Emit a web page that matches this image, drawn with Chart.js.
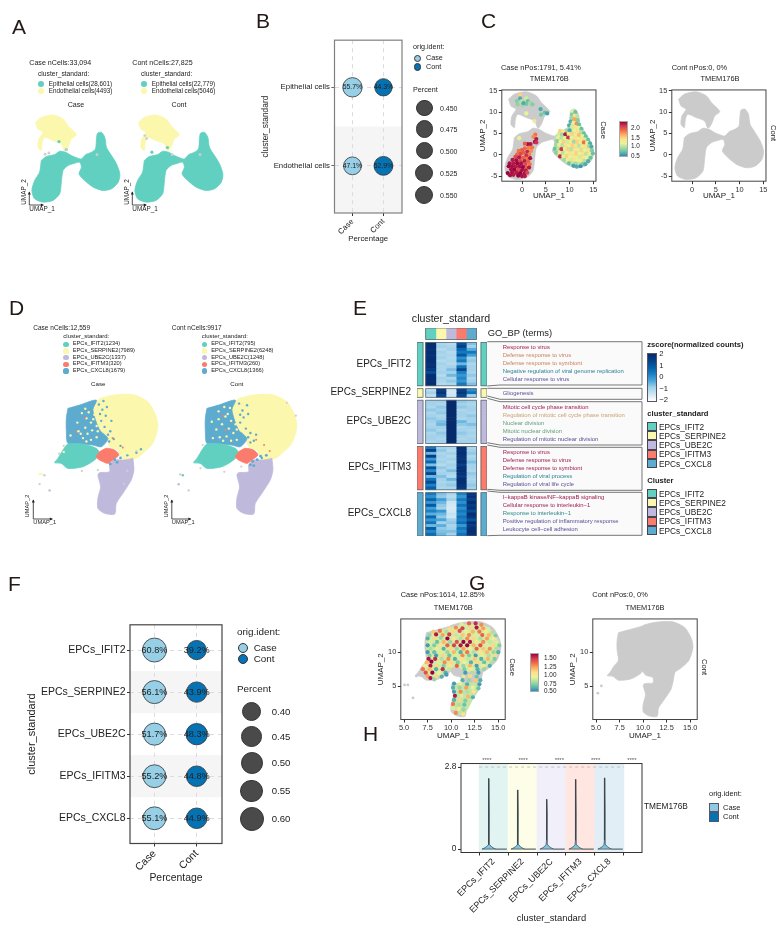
<!DOCTYPE html>
<html>
<head>
<meta charset="utf-8">
<title>TMEM176B panels</title>
<script src="https://cdn.jsdelivr.net/npm/chart.js@4"></script>
<style>
  html, body { margin: 0; padding: 0; background: #fff; }
  #page { position: relative; width: 784px; height: 934px; overflow: hidden; font-family: "Liberation Sans", Arial, sans-serif; color: #222; }
  #page canvas { position: absolute; }
  #page svg { position: absolute; left: 0; top: 0; z-index: 1; }
  .t { position: absolute; white-space: nowrap; line-height: 1; z-index: 2; }
  .b { position: absolute; z-index: 2; box-sizing: border-box; }
</style>
</head>
<body>
<div id="page"></div>
<script>
// ---- categories
const groups = ['Case', 'Cont'];
const lineages = ['Epithelial cells', 'Endothelial cells'];
const clusters = ['EPCs_IFIT2', 'EPCs_SERPINE2', 'EPCs_UBE2C', 'EPCs_IFITM3', 'EPCs_CXCL8'];

// ---- percentages, panels B and F
const lineageCase = [55.7, 47.1];
const lineageCont = [44.3, 52.9];
const clusterCase = [60.8, 56.1, 51.7, 55.2, 55.1];
const clusterCont = [39.2, 43.9, 48.3, 44.8, 44.9];
const percentLegendB = [0.45, 0.475, 0.5, 0.525, 0.55];
const percentLegendF = [0.4, 0.45, 0.5, 0.55, 0.6];

// ---- cell counts for the legends
const lineageCountCase = ['28,601', '4493'];
const lineageCountCont = ['22,779', '5046'];
const clusterCountCase = [1234, 7989, 1337, 320, 1679];
const clusterCountCont = [795, 6248, 1248, 260, 1366];

// ---- whole atlas UMAP outlines (panels A, C)
const epithelialOutline = [[-1.61,4.01],[-.55,4.95],[1.22,5.42],[2.29,6.21],[3.56,5.97],[4.77,5.19],[5.97,4.64],[6.9,4.4],[7.82,5.42],[9.02,5.97],[9.88,6.76],[10.09,9.11],[10.3,10.44],[11.15,10.68],[11.86,9.5],[12.2,7.15],[13.28,5.19],[14.34,3.23],[15.05,.87],[14.7,-1.09],[13.28,-2.65],[11.5,-3.05],[9.38,-2.26],[7.6,-.69],[6.4,.87],[6.9,2.44],[6.54,3.62],[5.48,3.38],[4.06,2.84],[3,1.66],[2.64,-1.09],[2.29,-3.83],[.87,-5.4],[-1.26,-5.79],[-3.03,-5],[-3.6,-3.05],[-3.03,-.69],[-1.97,1.27],[-1.61,4.01]];
const endothelialOutline = [[-2.82,13.03],[-1.61,14.2],[.87,14.76],[3,13.82],[4.06,12.25],[5.83,10.13],[4.77,9.11],[4.06,7.15],[3.35,6.21],[2.64,7.93],[.87,8.72],[-.9,9.5],[-1.4,8.32],[-1.61,6.36],[-2.32,7.15],[-2.11,9.11],[-1.26,10.68],[-2.32,11.46],[-2.82,13.03]];
const atlasExprZone = [[7.82,5.2],[9.02,5.6],[9.9,6.4],[10.3,8.9],[10.6,10],[11.2,10.2],[11.6,9.4],[12,7.15],[13.1,5.1],[14.1,3.2],[14.8,.87],[14.5,-1],[13.2,-2.4],[11.5,-2.8],[9.5,-2.1],[7.8,-.6],[6.7,.9],[7.1,2.6],[7,4.2],[7.82,5.2]];
const atlasStrayCase = [[0,5.8],[-.8,5.5],[3.7,6.6],[10.2,5.4]];
const atlasStrayCont = [[-1.5,9.9],[-1.1,9.2],[10.2,5.4],[4.3,5.4]];
const atlasTealDotsCase = [[2.14,8.5],[3.7,6.6]];
const atlasTealDotsCont = [[0,6],[3.3,7.1]];

// ---- EPC sub-clustering UMAP outlines (panels D, G)
const clusterOutlines = {
  SERPINE2: [[10.16,14],[11.33,14.38],[13.09,14.46],[14.41,13.61],[15.09,12.07],[15.29,10.72],[14.85,8.79],[13.97,7.63],[13.38,7.05],[12.36,6.86],[11.92,7.63],[11.77,8.01],[11.04,8.4],[10.75,9.56],[10.16,10.33],[9.72,11.87],[9.28,12.84],[10.16,14]],
  CXCL8: [[7.37,12.84],[8.4,13.23],[9.87,13.8],[9.57,12.65],[10.16,10.33],[10.89,9.36],[10.31,8.4],[9.57,8.59],[8.4,8.71],[7.37,8.79],[7.23,10.33],[7.23,11.68],[7.37,12.84]],
  UBE2C: [[13.09,7.05],[13.18,5.7],[12.94,4.54],[12.21,3],[11.63,1.84],[11.48,.6],[10.6,.68],[10.01,1.26],[10.01,2.41],[10.25,3.77],[10.01,5.12],[10.16,5.39],[11.04,5.5],[11.04,6.28],[11.48,6.86],[12.36,6.86],[13.09,7.05]],
  IFIT2: [[6.93,8.01],[7.37,8.71],[8.69,8.71],[9.87,8.21],[10.16,7.63],[9.72,6.86],[8.69,6.08],[7.37,5.89],[6.79,6.47],[6.2,6.55],[6.49,7.05],[6.93,8.01]],
  IFITM3: [[10.16,7.82],[10.75,8.21],[11.48,8.01],[11.86,7.43],[11.33,6.86],[10.89,6.47],[10.16,6.86],[9.87,7.24],[10.16,7.82]]
};
const epcOutline = [[7.37,12.84],[8.4,13.23],[9.87,13.8],[10.16,14],[11.33,14.38],[13.09,14.46],[14.41,13.61],[15.09,12.07],[15.29,10.72],[14.85,8.79],[13.97,7.63],[13.38,7.05],[13.18,5.7],[12.94,4.54],[12.21,3],[11.63,1.84],[11.48,.6],[10.6,.68],[10.01,1.26],[10.01,2.41],[10.25,3.77],[10.01,5.12],[10.16,5.39],[11.04,5.5],[11.04,6.28],[10.3,6.6],[9.9,7.2],[9.72,6.86],[8.69,6.08],[7.37,5.89],[6.79,6.47],[6.2,6.55],[6.49,7.05],[6.93,8.01],[7.37,8.79],[7.23,10.33],[7.23,11.68],[7.37,12.84]];
const epcExprTop = [[8,12.8],[10,13.6],[11.3,14],[13,14.1],[14.2,13.3],[14.9,12],[15,10.7],[14.6,9],[13.8,8],[12.6,7.3],[11.4,7.2],[10.6,8],[9.9,7.6],[8.7,6.6],[7.6,6.4],[7.2,7.5],[7.5,8.8],[7.4,10.5],[7.4,11.7],[8,12.8]];
const epcExprStem = [[10.3,5.3],[12.9,5.3],[12.3,3.2],[11.5,1.2],[10.6,1],[10.2,2.4],[10.4,3.8],[10.3,5.3]];

// ---- speckles of other clusters, panel D
const yellowInBlueCase = [[8.6,12.3],[9,11.7],[9.4,11.2],[8.9,10.6],[9.5,10.3],[8.3,10.2],[9.1,9.9],[9.9,9.5],[9.4,9.2],[8.2,11.2],[9.7,12.1],[8.9,12.8],[7.6,9.7],[8.7,9.4],[9.2,12.4],[9.6,11.6],[8.5,9.9],[9.9,10.8],[9,9],[10,10.2]];
const blueInYellowCase = [[10.1,13.3],[10.4,12.7],[10.7,12],[10.3,11.4],[10.6,10.7],[11.1,10.2],[10.9,9.8],[11.4,9.3],[11.2,11.4],[10.8,13],[13.4,7.7],[12.6,7.4],[13.8,8.1],[10.2,12.2],[10.5,13.7],[11,9],[12,8.5]];
const redDotsCase = [[8.9,11.8],[11.3,9.4],[12.2,8.3],[8.1,10.1]];
const blueDotsNearRedCase = [[11.5,6.9],[11.1,6.4],[12,7.1],[11.7,6.6]];
const yellowInBlueCont = [[8.4,12.5],[9,11.9],[9.5,11.4],[8.7,11],[9.3,10.5],[8.2,10.4],[9.7,10],[9.1,9.6],[10,9.2],[8.5,9.5],[9.8,12.5],[8.9,13],[7.9,9.4],[9.4,12.9],[7.8,11.3],[9.9,11],[9.2,12.2],[8.4,11.6],[10,10.4],[9.5,9.1],[8.8,9.1]];
const blueInYellowCont = [[10.2,13.4],[10.5,12.6],[10.6,11.8],[10.3,11.2],[10.8,10.5],[11.2,10],[11,9.5],[11.5,9.1],[11,12.2],[10.9,13.2],[12.2,7.1],[11.7,9.8],[10.3,12.1],[10.4,9.9],[11.2,8.9]];
const redDotsCont = [[9,10.3],[8.8,12],[11.7,9.2],[12.4,8.6],[12.9,7.9]];
const blueDotsNearRedCont = [[11.4,6.7],[11.2,6.3],[11.8,6.9],[12.1,7.3],[11.5,6.2],[12.6,7.4]];
const grayStrayCase = [[7,8.5],[6.6,7.6],[8.6,5.6],[10,5.7],[12.6,5.6],[12.3,4.1],[13.4,7.9]];
const grayStrayCont = [[7,8.6],[6.8,5.9],[8.9,5.5],[10.4,6.1],[14.4,13.5],[15.2,12]];
const strayYellowCase = [[4.88,5.23],[5.05,5.25],[7,7.8]];
const strayLilacCase = [[5.76,3.34]];
const strayGrayCase = [[4.88,4.07],[5.3,5.1]];
const strayYellowCont = [];
const strayLilacCont = [[4.88,4.05]];
const strayGrayCont = [[5.03,5.2],[5.76,3.34]];
const strayTealCont = [[5.25,5.1]];

// ---- TMEM176B expressing cells, panel C (x, y, expression)
const atlasExprTop = [[-.4,14,1.5],[-.4,13.2,.6],[-1.1,12.6,.8],[-.9,11.8,.85],[0,12.6,1],[.1,11.6,.9],[.9,13.2,1.1],[1.2,12.6,.7],[.9,11.9,.75],[1.7,12.2,.9],[2.2,11.8,.8],[.3,12.1,.6],[.9,9.7,1.2],[3.9,10.7,.6],[4,9.4,.75],[4.8,9.9,.7],[5.3,9.7,.55],[2.6,7.9,1.3],[-.6,3.9,1.25]];
const atlasExprLeft = [[2.8,4.7,1.9],[2.4,4.2,1.8],[3,3.7,2.3],[2.7,3,2.35],[3,2.9,2.2],[1.8,2.5,2.3],[1.2,2.5,2.35],[.6,2.6,2],[2.1,1.7,1.9],[1.4,1.6,1.85],[.6,1.5,1.95],[0,1.1,2],[-.7,.9,1.9],[1.9,.9,1.8],[1.1,.7,2.25],[.4,.5,2],[-.3,.2,2.1],[-1,.1,1.95],[1.5,.1,1.85],[.9,-.2,2.2],[-1.4,-.5,2.1],[-.6,-.6,2.3],[.2,-.7,2],[1,-.9,1.9],[1.7,-.8,2.35],[-2,-1.2,2.3],[-1.2,-1.3,2.35],[-.4,-1.4,2.1],[.5,-1.5,2.3],[1.3,-1.6,2],[-2.6,-2,2.35],[-1.8,-2,2.3],[-1,-2,2.4],[-.2,-2.1,2.35],[.7,-2.2,2.1],[1.6,-2.2,1.9],[-2.8,-2.7,2.4],[-2.1,-2.7,2.35],[-1.4,-2.8,2.3],[-.6,-2.8,2.35],[.2,-2.9,2.4],[1,-3,2],[1.5,-3,2.3],[-2.3,-3.4,2.35],[-1.6,-3.5,2.4],[-.8,-3.5,2.1],[0,-3.6,2.35],[.8,-3.7,2.3],[-3,-4.3,2.4],[-2.1,-4.1,2.35],[-1.2,-4.2,2.3],[-.4,-4.3,2.4],[.5,-4.4,2.35],[1.1,-4.2,2.1],[-1.8,-4.7,2.3],[-.8,-4.9,2.4],[0,-5,2.35],[-2.5,-4.8,2.35],[.6,-5,2.3]];
const atlasExprRight = [[10.7,10.2,1.2],[11.2,10,.7],[10.5,9.4,.8],[11.1,9.2,1.4],[11.6,8.9,1],[10.4,8.6,.9],[11,8.3,1.7],[11.7,8.1,.8],[10.2,7.8,.6],[10.8,7.5,1.3],[11.5,7.3,1.8],[12,7.1,.7],[9.9,6.9,.6],[10.5,6.6,1.1],[11.2,6.5,1.4],[11.9,6.3,1.2],[12.5,6.1,.7],[8,5.6,1.5],[8.7,5.5,1.3],[9.4,5.6,.9],[10,5.7,.6],[11,5.7,1.2],[11.7,5.5,1.4],[12.4,5.3,1],[13,5,.7],[7.7,4.8,1.1],[8.4,4.7,.9],[9.1,4.8,2.3],[9.8,4.9,1.3],[10.6,4.9,1.5],[11.3,4.7,1.3],[12,4.6,1.6],[12.7,4.4,1.2],[13.4,4.3,.7],[7.6,4,1.3],[8.3,3.9,1],[9,3.9,1.2],[9.7,4,2.2],[10.4,4,1.2],[11.1,3.9,1.4],[11.8,3.8,1.3],[12.5,3.7,1.4],[13.2,3.6,1.1],[13.9,3.5,.7],[7.4,3.2,.8],[8.1,3.1,1.2],[8.8,3.1,1.5],[9.5,3.2,1.1],[10.2,3.1,1.3],[10.9,3.1,.9],[11.6,3,1.5],[12.3,2.9,1.3],[13,2.9,1.9],[13.7,2.8,1.2],[14.3,2.7,.6],[7.1,2.3,.9],[7.8,2.3,1.3],[8.5,2.2,1],[9.2,2.3,1.4],[9.9,2.2,1.2],[10.6,2.2,1.5],[11.3,2.1,1.4],[12,2.1,1],[12.7,2,1.3],[13.4,2,1.4],[14.1,2,.9],[14.6,1.9,.6],[6.9,1.4,.7],[7.6,1.4,1],[8.3,1.3,2.2],[9,1.4,1.3],[9.7,1.3,1.5],[10.4,1.3,1],[11.1,1.2,1.4],[11.8,1.2,1.3],[12.5,1.1,1.5],[13.2,1.1,1.2],[13.9,1.1,1.4],[14.7,1,.8],[7.2,.5,.8],[7.9,.5,1.4],[8.6,.4,1],[9.3,.5,1.2],[10,.4,1.4],[10.7,.4,1.3],[11.4,.3,1.5],[12.1,.3,1.2],[12.8,.3,1.4],[13.5,.2,1],[14.2,.2,1.3],[14.9,.3,.7],[8,-.4,2.25],[8.7,-.4,1.2],[9.4,-.4,1.5],[10.1,-.5,1.2],[10.8,-.5,1.4],[11.5,-.6,1.3],[12.2,-.6,1.1],[12.9,-.6,1.4],[13.6,-.6,1.2],[14.4,-.7,.7],[8.9,-1.2,.9],[9.6,-1.2,1.3],[10.3,-1.3,1.1],[11,-1.3,1.4],[11.7,-1.4,1.2],[12.4,-1.4,1.3],[13.1,-1.4,1],[13.9,-1.5,.6],[9.9,-2,.7],[10.6,-2.1,1],[11.3,-2.1,.9],[12,-2.2,1],[12.7,-2.2,.8],[13.3,-2.2,.6],[11.5,-2.8,.6],[10.8,-2.6,.55],[12.3,-2.7,.5]];

// ---- TMEM176B expressing cells, panel G (x, y, expression)
const epcExpr = [[11.1,14.1,.9],[11.9,14.2,1.4],[12.6,14.2,1.55],[13.2,14,1.3],
[9.8,13.5,1.1],[10.5,13.6,1.3],[11.2,13.5,1.5],[12,13.6,1.1],[12.7,13.6,1.6],[13.4,13.5,1.25],[13.9,13.4,.9],
[8.1,13,1.15],[8.8,13.1,1.35],[9.5,13,.8],[10.2,13,1.1],[10.9,13.1,1.45],[11.6,13,.95],[12.3,13,1.2],[13,13,1.35],[13.7,13,1],[14.4,12.9,.8],
[7.7,12.5,.75],[8.4,12.6,1.6],[9.1,12.5,1.25],[9.8,12.6,1.5],[10.5,12.5,.85],[11.2,12.5,1.15],[11.9,12.5,1.3],[12.6,12.5,.9],[13.3,12.5,1.4],[14,12.5,1.2],[14.7,12.4,.7],
[7.5,12,.6],[8.2,12,1.1],[8.9,12.1,.75],[9.6,12,1.65],[10.3,12,1.05],[11,12,.8],[11.7,12,1.3],[12.4,12,1.1],[13.1,12,.8],[13.8,12,1.25],[14.5,12,1],
[7.8,11.5,.9],[8.5,11.5,.65],[9.2,11.5,1.2],[9.9,11.5,.75],[10.6,11.5,1.45],[11.3,11.5,1.65],[12,11.5,1.6],[12.7,11.5,1],[13.4,11.5,1.3],[14.1,11.5,.85],[14.9,11.4,.9],
[7.5,11,.55],[8.2,11,.7],[8.9,11,1.05],[9.6,11,1.4],[10.3,11,1.5],[11,11,1.6],[11.7,11,1.65],[12.4,11,1.2],[13.1,11,1.45],[13.8,11,.9],[14.5,11,1.1],[15.1,11,.7],
[7.8,10.5,.8],[8.5,10.5,1],[9.2,10.5,.6],[9.9,10.5,1.1],[10.6,10.5,.75],[11.3,10.5,1.25],[12,10.5,.95],[12.7,10.5,1.4],[13.4,10.5,1.15],[14.1,10.5,1.3],[14.8,10.5,.8],
[7.5,10,.55],[8.2,10,.65],[8.9,10,.9],[9.6,10,.75],[10.3,10,1.2],[11,10,.6],[11.7,10,1.35],[12.4,10,.8],[13.1,10,1.05],[13.8,10,1.2],[14.5,10,.75],[15,10,.6],
[7.7,9.5,.7],[8.4,9.5,.55],[9.1,9.5,1.1],[9.8,9.5,.65],[10.5,9.5,.9],[11.2,9.5,1.3],[11.9,9.5,.7],[12.6,9.5,.55],[13.3,9.5,1],[14,9.5,.8],[14.7,9.5,1.1],
[7.6,9,1.6],[8.3,9,1.55],[9,9,.8],[9.7,9,1.3],[10.4,9,.6],[11.1,9,1.05],[11.8,9,.85],[12.5,9,1.15],[13.2,9,.6],[13.9,9,1.2],[14.6,9,.7],
[7.4,8.5,1.2],[7.9,8.6,1.65],[8.6,8.5,.9],[9.3,8.5,1.3],[10,8.5,1.1],[10.7,8.5,.7],[11.4,8.5,.95],[12.1,8.5,.6],[12.8,8.5,1.1],[13.5,8.5,.65],[14.3,8.5,.8],
[7.2,8,1],[7.8,8,1.6],[8.5,8,1.1],[9.2,8,.7],[9.9,8,1.05],[10.6,8,1.4],[11.3,8,.75],[12,8,1.2],[12.7,8,.55],[13.4,8,1],[14.1,8,.6],
[7,7.5,1.35],[7.7,7.5,1.2],[8.4,7.5,.6],[9.1,7.5,1.55],[9.8,7.5,.85],[11.4,7.5,.7],[12.1,7.5,1],[12.8,7.5,.6],[13.5,7.5,.75],
[7.3,7,1.45],[8,7,1.65],[8.7,7,.95],[9.4,7,.6],[11.5,7,.55],[12.2,7,.8],[12.9,7,.55],
[7.5,6.5,1.25],[7.8,6.2,1.6],[8.4,6.4,1.1],[9,6.4,.6],[9.5,6.7,.55],[11.3,6.4,.9],[12,6.5,1.1],[12.7,6.4,.65],
[8.2,6,.75],[11.2,5.9,.6],[11.9,5.9,.75],[12.6,5.9,1.15],[13.1,5.9,.6],
[10.3,5.4,.55],[11,5.4,1],[11.7,5.3,.6],[12.4,5.3,.85],[13,5.3,.55],
[10.2,4.8,.6],[10.9,4.8,.75],[11.6,4.8,1.25],[12.3,4.8,.95],[12.9,4.7,.65],
[10.3,4.2,.55],[11,4.2,1.3],[11.7,4.2,.8],[12.4,4.2,1.05],
[10.4,3.6,1.6],[11.1,3.6,.9],[11.8,3.5,1.2],[12.3,3.4,.6],
[10.3,3,.6],[10.9,3,1.1],[11.5,2.9,.7],
[10.2,2.4,1.35],[10.8,2.3,.8],[11.4,2.3,.65],
[10.2,1.8,.9],[10.8,1.7,1],[11.3,1.6,.75],
[10.5,1.1,1.3],[11,1.1,.85],[11.3,.9,1.05]];

// ---- violin panel H
const violinMax = [2.41, 2.02, 1.7, 2.38, 2.43];
const violinHeights = [0, .03, .08, .15, .3, .6, .9, 1.2];
const violinWidths = [.24, .17, .09, .03, .012, .012, .024, .012];
const violinYLimit = 2.8;

// ---- heatmap z-scores, five columns per row (panel E)
const zIFIT2 = [[1.9,-.6,-.7,1.2,-.3],[1.9,-.5,-.6,1.5,-.5],[1.8,-.7,-.5,.9,-.1],[1.9,-.5,-.7,.6,.6],[1.8,-.6,-.6,1.1,.1],[1.9,-.5,-.7,.3,-.5],[1.9,-.7,-.6,.6,-.4],[1.8,-.5,-.7,-.2,-.6],[1.9,-.6,-.5,.7,-.5],[1.7,-.6,-.3,1.4,-.5],[1.3,-.5,-.5,.5,-.6],[1.9,-.7,-.2,.2,-.4],[1.9,-.5,-.6,.4,-.6],[1.8,-.6,-.4,.2,-.5],[1.9,-.7,-.6,.6,-.3]];
const zSERPINE2 = [[-.8,1.6,-1,1.5,.3],[-.5,1.8,-1.1,1.7,.7],[-.8,1.4,-1,1.4,-.5]];
const zUBE2C = [[-.5,-.5,2,-.4,-.5],[-.5,-.6,2,-.5,-.6],[-.6,-.4,2,-.4,-.5],[-.4,-.5,2,-.6,-.5],[-.6,-.4,2,-.5,-.6],[-.5,-.6,2,-.5,-.4],[-.4,-.5,2,-.6,-.5],[-.5,-.3,2,-.2,-.5],[-.6,-.2,2,-.4,-.3],[-.5,-.5,2,-.6,-.5],[-.4,-.6,2,-.5,-.6],[-.6,-.4,2,-.4,-.5],[-.5,-.5,2,-.5,-.6],[-.5,-.6,2,-.6,-.5],[-.6,-.5,2,-.5,-.5]];
const zIFITM3 = [[.6,-.5,-.6,1.9,-.6],[1.5,-.4,-.7,1.8,-.5],[-.2,-.6,-.5,1.9,-.4],[1.6,-.5,-.7,1.8,-.6],[.2,-.6,-.5,1.7,-.5],[.9,-.5,-.7,1.9,-.3],[-.3,-.7,-.5,1.5,-.5],[1.2,-.4,-.6,1.9,-.5],[.4,-.6,-.3,1.9,-.6],[1.4,-.5,-.6,1.8,-.4],[-.2,-.3,-.7,1.6,-.5],[.7,-.5,-.2,1.9,-.6],[1.3,-.6,-.5,1.9,-.5],[.5,-.5,-.4,1.8,-.4],[1,-.6,-.6,1.7,-.5]];
const zCXCL8 = [[.6,-.3,-.6,.5,1.7],[.3,-.4,-.7,.2,1.8],[.9,.1,-.5,.6,1.5],[.2,-.2,-1,.3,1.9],[1.1,-.4,-1.1,.7,1.6],[.1,-.5,-1.2,.3,1.8],[.5,.2,-1.1,.6,1.3],[-.1,-.2,-.9,.4,1.9],[.9,-.4,-1,.7,1.7],[.2,0,-.5,.5,1.2],[.7,-.5,-.4,.8,1.9],[-.2,-.1,-.6,.2,1.6],[1,-.4,-.5,.6,1.8],[.4,-.3,-.3,.4,1.9],[.8,-.2,-.5,.7,1.8]];

// ---- GO terms next to the heatmap
const goTerms = [
  ['Response to virus', 'Defense response to virus', 'Defense response to symbiont', 'Negative regulation of viral genome replication', 'Cellular response to virus'],
  ['Gliogenesis'],
  ['Mitotic cell cycle phase transition', 'Regulation of mitotic cell cycle phase transition', 'Nuclear division', 'Mitotic nuclear division', 'Regulation of mitotic nuclear division'],
  ['Response to virus', 'Defense response to virus', 'Defense response to symbiont', 'Regulation of viral process', 'Regulation of viral life cycle'],
  ['I\u2212kappaB kinase/NF\u2212kappaB signaling', 'Cellular response to interleukin\u22121', 'Response to interleukin\u22121', 'Positive regulation of inflammatory response', 'Leukocyte cell\u2212cell adhesion']
];
const crimson = '#a01c50', rust = '#c8835a', tan = '#c8a372', green = '#62a07e', teal = '#2a8096', violet = '#5b4f96';
const goColors = [
  [crimson, rust, rust, teal, violet],
  [violet],
  [crimson, tan, green, green, violet],
  [crimson, crimson, crimson, teal, violet],
  [crimson, crimson, '#2a8a8a', violet, violet]
];

// ---- colours
const caseBlue = '#97cfe6', contBlue = '#0573b3';
const clusterColors = ['#62d0c0', '#fbf7ad', '#bfb9db', '#fb7b6c', '#5dabcf'];
const bandColors = ['#e2f4f1', '#fefee8', '#f1effa', '#ffe6e1', '#e1eef6'];
const spectral = ['#3288bd', '#66c2a5', '#abdda4', '#e6f598', '#fee08b', '#fdae61', '#f46d43', '#d53e4f', '#9e0142'];
const heatStops = [[-2, '#ffffff'], [-1, '#cde6f4'], [-.5, '#a3d2ea'], [0, '#4aa6da'], [.5, '#1b80c4'], [1, '#045fa8'], [1.5, '#06408a'], [2, '#062a6a']];

Chart.defaults.font.family = '"Liberation Sans", Arial, sans-serif';
Chart.defaults.color = '#333';
Chart.defaults.animation = false;
Chart.defaults.plugins.legend.display = false;
Chart.defaults.plugins.tooltip.enabled = false;

const page = document.getElementById('page');
const svgNS = 'http://www.w3.org/2000/svg';
const overlay = document.createElementNS(svgNS, 'svg');
overlay.setAttribute('width', 784);
overlay.setAttribute('height', 934);
page.appendChild(overlay);

function text(str, x, y, size, o = {}) {
  const el = document.createElement('span');
  el.className = 't';
  el.textContent = str;
  el.style.left = x + 'px';
  el.style.top = y + 'px';
  el.style.fontSize = size + 'px';
  if (o.bold) el.style.fontWeight = 'bold';
  el.style.color = o.color || '#222';
  const tx = o.align === 'center' ? '-50%' : o.align === 'right' ? '-100%' : '0';
  el.style.transform = `translate(${tx},-50%)` + (o.rot ? ` rotate(${o.rot}deg)` : '');
  page.appendChild(el);
}

function box(x, y, w, h, css) {
  const el = document.createElement('div');
  el.className = 'b';
  el.style.left = x + 'px';
  el.style.top = y + 'px';
  el.style.width = w + 'px';
  el.style.height = h + 'px';
  Object.assign(el.style, css);
  page.appendChild(el);
}

function dot(cx, cy, r, fill, border) {
  box(cx - r, cy - r, 2 * r, 2 * r, { background: fill, borderRadius: '50%', border: border ? `0.8px solid ${border}` : 'none' });
}

function poly(points, fill, stroke, width) {
  const p = document.createElementNS(svgNS, 'polyline');
  p.setAttribute('points', points.map(q => q.join(',')).join(' '));
  p.setAttribute('fill', fill || 'none');
  p.setAttribute('stroke', stroke || 'none');
  p.setAttribute('stroke-width', width || 1);
  overlay.appendChild(p);
}

function umapArrows(x, y, up, right, size) {
  poly([[x, y - up], [x, y], [x + right, y]], 'none', '#222', 0.8);
  poly([[x - 1.5, y - up + 2.5], [x, y - up - .5], [x + 1.5, y - up + 2.5]], '#222');
  poly([[x + right - 2.5, y - 1.5], [x + right + .5, y], [x + right - 2.5, y + 1.5]], '#222');
  text('UMAP_1', x, y + 4, size);
  text('UMAP_2', x - 5, y - 13, size, { align: 'center', rot: -90 });
}

const toRgb = hex => [1, 3, 5].map(i => parseInt(hex.slice(i, i + 2), 16));
function mix(a, b, t) {
  const ca = toRgb(a), cb = toRgb(b);
  return `rgb(${ca.map((c, i) => Math.round(c + (cb[i] - c) * t)).join(',')})`;
}
function spectralColor(v, lo, hi) {
  const t = Math.min(1, Math.max(0, (v - lo) / (hi - lo))) * (spectral.length - 1);
  const i = Math.min(spectral.length - 2, Math.floor(t));
  return mix(spectral[i], spectral[i + 1], t - i);
}
function heatColor(z) {
  for (let i = 0; i < heatStops.length - 1; i++) {
    if (z <= heatStops[i + 1][0]) {
      return mix(heatStops[i][1], heatStops[i + 1][1], (z - heatStops[i][0]) / (heatStops[i + 1][0] - heatStops[i][0]));
    }
  }
  return heatStops[heatStops.length - 1][1];
}

// frame plugin: box round the plot area
const framePlugin = {
  id: 'frame',
  afterDraw(chart, args, opts) {
    if (!opts.color) return;
    const { ctx, chartArea: a } = chart;
    ctx.save();
    ctx.strokeStyle = opts.color;
    ctx.lineWidth = opts.width || 1;
    ctx.strokeRect(a.left, a.top, a.right - a.left, a.bottom - a.top);
    ctx.restore();
  }
};
Chart.register(framePlugin);

// puts a chart so that its plot area sits exactly on frame
function addChart(frame, m, config) {
  const canvas = document.createElement('canvas');
  const w = Math.round(m.left + frame.r - frame.l + m.right);
  const h = Math.round(m.top + frame.b - frame.t + m.bottom);
  canvas.width = w;
  canvas.height = h;
  canvas.style.left = (frame.l - m.left) + 'px';
  canvas.style.top = (frame.t - m.top) + 'px';
  canvas.style.width = w + 'px';
  canvas.style.height = h + 'px';
  page.appendChild(canvas);
  const scales = config.options.scales;
  let padLeft = m.left, padBottom = m.bottom;
  if (scales.x.display !== false) {
    scales.x.afterFit = s => { s.height = m.bottom; };
    padBottom = 0;
  }
  if (scales.y.display !== false) {
    scales.y.afterFit = s => { s.width = m.left; };
    padLeft = 0;
  }
  config.options.responsive = false;
  config.options.layout = { autoPadding: false, padding: { left: padLeft, top: m.top, right: m.right, bottom: padBottom } };
  return new Chart(canvas, config);
}

const hiddenAxis = (min, max) => ({ type: 'linear', display: false, min, max });
function valueAxis(min, max, ticks, size, title, titleSize, fmt) {
  return {
    type: 'linear', min, max,
    afterBuildTicks: s => { s.ticks = ticks.map(value => ({ value })); },
    grid: { drawOnChartArea: false, color: '#333', tickLength: 3 },
    border: { display: false },
    ticks: { autoSkip: false, maxRotation: 0, padding: 1.5, color: '#333', font: { size }, callback: fmt || (v => v) },
    title: title ? { display: true, text: title, padding: 0, color: '#222', font: { size: titleSize } } : { display: false }
  };
}
const shape = (outline, color, order) => ({
  data: outline.map(p => ({ x: p[0], y: p[1] })),
  showLine: true, fill: 'shape', backgroundColor: color, borderColor: color, borderWidth: .8, tension: .25, pointRadius: 0, order
});
const dots = (pts, color, r, order) => ({
  data: pts.map(p => ({ x: p[0], y: p[1] })),
  showLine: false, pointRadius: r, pointBackgroundColor: color, pointBorderWidth: 0, order
});

// ---- panel letters
[['A', 12, 26], ['B', 256, 20], ['C', 481, 20], ['D', 9, 307], ['E', 353, 307], ['F', 8, 583], ['G', 469, 582], ['H', 363, 733]]
  .forEach(l => text(l[0], l[1], l[2], 21, { color: '#231815' }));

// ---- panel A
function atlasPanel(dx, title, nCells, counts, stray, tealDots) {
  addChart({ l: 30 + dx, r: 122 + dx, t: 113.6, b: 202.9 }, { left: 0, right: 0, top: 0, bottom: 0 }, {
    type: 'line',
    data: {
      datasets: [
        shape(endothelialOutline, clusterColors[1], 4),
        shape(epithelialOutline, clusterColors[0], 3),
        dots(tealDots, clusterColors[0], 1.6, 2),
        dots(stray, '#cfcfcf', 1.4, 1)
      ]
    },
    options: { scales: { x: hiddenAxis(-4, 15.5), y: hiddenAxis(-6, 15) } }
  });
  text(`${title} nCells:${nCells}`, 29.3 + dx, 64, 7.1);
  text('cluster_standard:', 38 + dx, 73.7, 6.7);
  lineages.forEach((name, i) => {
    dot(41.3 + dx, 83.7 + i * 7.4, 2.9, clusterColors[i]);
    text(`${name}(${counts[i]})`, 48.7 + dx, 83.7 + i * 7.4, 6.3);
  });
  text(title, 76 + dx, 106.3, 7.1, { align: 'center' });
  umapArrows(29.3 + dx, 205, 13, 14, 6.4);
}
atlasPanel(0, 'Case', '33,094', lineageCountCase, atlasStrayCase, atlasTealDotsCase);
atlasPanel(103, 'Cont', '27,825', lineageCountCont, atlasStrayCont, atlasTealDotsCont);

// ---- bubble panels B and F
function bubblePanel(frame, m, rows, casePct, contPct, sizeAt, opt) {
  const rowIdx = rows.map((_, i) => i);
  const labelPlugin = {
    id: 'pctLabels',
    afterDatasetsDraw(chart) {
      const { ctx, scales } = chart;
      ctx.save();
      ctx.font = `${opt.labelSize}px "Liberation Sans", Arial, sans-serif`;
      ctx.textAlign = 'center';
      ctx.textBaseline = 'middle';
      ctx.fillStyle = '#222';
      [casePct, contPct].forEach((vals, g) => vals.forEach((v, i) => {
        ctx.fillText(v.toFixed(1) + '%', scales.x.getPixelForValue(g), scales.y.getPixelForValue(i));
      }));
      ctx.restore();
    }
  };
  const stripePlugin = {
    id: 'stripes',
    beforeDraw(chart) {
      const { ctx, chartArea: a, scales } = chart;
      ctx.save();
      ctx.fillStyle = '#f5f5f5';
      rows.forEach((_, i) => {
        if (i % 2 === 1) {
          const t = scales.y.getPixelForValue(i - .5);
          const b = i === rows.length - 1 ? a.bottom : scales.y.getPixelForValue(i + .5);
          ctx.fillRect(a.left, t, a.right - a.left, b - t);
        }
      });
      ctx.restore();
    }
  };
  const grid = { color: '#dcdcdc', tickColor: '#333', tickLength: 3, tickBorderDash: [1, 0] };
  const border = { display: false, dash: [4, 4] };
  addChart(frame, m, {
    type: 'bubble',
    data: {
      datasets: [
        { data: casePct.map((p, i) => ({ x: 0, y: i, r: sizeAt(p / 100) })), backgroundColor: caseBlue, borderColor: '#333', borderWidth: .8 },
        { data: contPct.map((p, i) => ({ x: 1, y: i, r: sizeAt(p / 100) })), backgroundColor: contBlue, borderColor: '#333', borderWidth: .8 }
      ]
    },
    options: {
      plugins: { frame: { color: opt.frameColor, width: 1.2 } },
      scales: {
        x: {
          type: 'linear', min: -.58, max: 1.6, grid, border,
          afterBuildTicks: s => { s.ticks = [0, 1].map(value => ({ value })); },
          ticks: { autoSkip: false, minRotation: 45, maxRotation: 45, padding: 1, color: '#222', font: { size: opt.tickSize }, callback: v => groups[v] },
          title: { display: true, text: 'Percentage', padding: 0, color: '#222', font: { size: opt.titleSize } }
        },
        y: {
          type: 'linear', reverse: true, min: -.6, max: rows.length - .4, grid, border,
          afterBuildTicks: s => { s.ticks = rowIdx.map(value => ({ value })); },
          ticks: { autoSkip: false, padding: 1.5, color: '#222', font: { size: opt.tickSize }, callback: v => rows[v] },
          title: { display: true, text: 'cluster_standard', padding: 0, color: '#222', font: { size: opt.yTitleSize } }
        }
      }
    },
    plugins: [labelPlugin, stripePlugin]
  });
}

const sizeB = p => 9.7 * Math.sqrt(p / .557);
const sizeF = p => 12 * Math.sqrt(p / .608);
bubblePanel({ l: 334.7, r: 402.3, t: 35, b: 213.3 }, { left: 73.5, right: 1, top: 1, bottom: 31 }, lineages, lineageCase, lineageCont, sizeB,
  { labelSize: 6.9, tickSize: 7.8, titleSize: 7.8, yTitleSize: 8.4, frameColor: '#808080' });
bubblePanel({ l: 130.3, r: 222, t: 618, b: 843.3 }, { left: 105, right: 1, top: 1, bottom: 40.5 }, clusters, clusterCase, clusterCont, sizeF,
  { labelSize: 9.2, tickSize: 10.5, titleSize: 10.4, yTitleSize: 11, frameColor: '#444' });

function bubbleLegend(x, idY, r, size, caseX, caseTextX, pctY, sizes, sizeFn, sizeX, labelX, fmt) {
  text('orig.ident:', x, idY, size);
  groups.forEach((g, i) => {
    const y = idY + (i ? r.b : r.a);
    dot(caseX, y, r.r, i ? contBlue : caseBlue, '#333');
    text(g, caseTextX, y, size);
  });
  text('Percent', x, pctY, size);
  sizes.forEach((p, i) => {
    dot(sizeX, r.ys[i], sizeFn(p) * r.scale, '#4a4a4a', '#333');
    text(fmt(p), labelX, r.ys[i], size * .97);
  });
}
bubbleLegend(413, 46.7, { a: 11.6, b: 20.3, r: 3.8, scale: .95, ys: [108, 129, 150.7, 173, 195.3] }, 7.2, 417.7, 426, 90,
  percentLegendB, sizeB, 424.3, 440, p => p.toFixed(3));
bubbleLegend(237, 632.3, { a: 15.7, b: 27, r: 5.2, scale: 1, ys: [711.7, 736.7, 762.7, 791, 819.3] }, 9.9, 242.7, 253.7, 689.3,
  percentLegendF, sizeF, 251.7, 271.7, p => p.toFixed(2));

// ---- expression UMAPs, panels C and G
function exprPanel(frame, m, cfg) {
  const rangeLo = cfg.lo, rangeHi = cfg.hi;
  const sets = [];
  if (cfg.tint) cfg.tint.forEach(t => sets.push(shape(t.outline, t.color, 8)));
  (cfg.cells || []).forEach(cells => sets.push({
    data: cells.map(c => ({ x: c[0], y: c[1], v: c[2] })),
    showLine: false, pointRadius: cfg.r, pointBorderWidth: 0,
    pointBackgroundColor: ctx => (ctx.raw ? spectralColor(ctx.raw.v, rangeLo, rangeHi) : '#000'), order: 1
  }));
  cfg.outlines.forEach(o => sets.push(shape(o, '#cbcbcb', 10)));
  if (cfg.stray) sets.push(dots(cfg.stray, '#cbcbcb', 1.4, 9));
  addChart(frame, m, {
    type: 'line',
    data: { datasets: sets },
    options: {
      plugins: { frame: { color: '#444', width: 1 } },
      scales: {
        x: valueAxis(cfg.xr[0], cfg.xr[1], cfg.xt, cfg.tickSize, 'UMAP_1', cfg.titleSize, cfg.xfmt),
        y: valueAxis(cfg.yr[0], cfg.yr[1], cfg.yt, cfg.tickSize, 'UMAP_2', cfg.titleSize)
      }
    }
  });
}
const cTicksX = [0, 5, 10, 15], cTicksY = [-5, 0, 5, 10, 15];
const gTicksX = [5, 7.5, 10, 12.5, 15], gTicksY = [5, 10];
const cBase = { lo: .45, hi: 2.4, r: 2.1, xr: [-4.25, 15.55], yr: [-6.2, 15.2], xt: cTicksX, yt: cTicksY, tickSize: 7.4, titleSize: 8, outlines: [epithelialOutline, endothelialOutline] };
const gBase = { lo: .5, hi: 1.65, r: 2.1, xr: [4.65, 15.74], yr: [.14, 14.86], xt: gTicksX, yt: gTicksY, tickSize: 7.4, titleSize: 8, outlines: [epcOutline], xfmt: v => v.toFixed(1) };

exprPanel({ l: 501.7, r: 597.7, t: 85, b: 181.3 }, { left: 23.8, right: 1, top: 1, bottom: 19.8 },
  Object.assign({}, cBase, { cells: [atlasExprTop, atlasExprLeft, atlasExprRight], tint: [{ outline: atlasExprZone, color: '#bfe3a8' }] }));
exprPanel({ l: 671.7, r: 768.3, t: 85, b: 181.3 }, { left: 23.8, right: 1, top: 1, bottom: 19.8 }, Object.assign({}, cBase));
exprPanel({ l: 400.7, r: 505.7, t: 614.3, b: 719.3 }, { left: 24.8, right: 1, top: 1, bottom: 21.5 },
  Object.assign({}, gBase, {
    cells: [epcExpr],
    tint: [{ outline: epcExprTop, color: '#d4eaa6' }, { outline: epcExprStem, color: '#c4e4a8' }],
    stray: [[5.05, 5.2], [5.4, 5.2], [5.95, 3.3], [7.2, 7], [6.7, 6.6], [6.3, 6.5]]
  }));
exprPanel({ l: 592.3, r: 697.3, t: 614.3, b: 719.3 }, { left: 24.8, right: 1, top: 1, bottom: 21.5 },
  Object.assign({}, gBase, { stray: [[5.56, 5.05], [5.18, 4]] }));

const spectralCss = `linear-gradient(to top, ${spectral.join(',')})`;
function headers(left, center, yTitle, yName, str, stripX, stripY, name) {
  text(str, left, yTitle, 7.4);
  text('TMEM176B', center, yName, 7.4, { align: 'center' });
  text(name, stripX, stripY, 7.6, { align: 'center', rot: 90 });
}
headers(501, 549.3, 68, 79, 'Case nPos:1791, 5.41%', 603, 130, 'Case');
headers(671.7, 720, 68, 79, 'Cont nPos:0, 0%', 773, 133, 'Cont');
headers(400.7, 453.3, 595.3, 608, 'Case nPos:1614, 12.85%', 511.7, 667, 'Case');
headers(592.3, 645, 595.3, 608, 'Cont nPos:0, 0%', 704, 667, 'Cont');
box(619, 121, 9.2, 35.5, { background: spectralCss, border: '0.5px solid #aaa' });
[['2.0', 128.3], ['1.5', 137.7], ['1.0', 146.3], ['0.5', 155.7]].forEach(t => text(t[0], 631, t[1], 6.4));
box(529.7, 653.3, 9.6, 39, { background: spectralCss, border: '0.5px solid #aaa' });
[['1.50', 658.3], ['1.25', 667], ['1.00', 675], ['0.75', 683.7], ['0.50', 691.3]].forEach(t => text(t[0], 544, t[1], 6.4));

// ---- panel D
function clusterPanel(dx, title, nCells, counts, yellowSpots, blueSpots, redSpots, nearRed, gray, sy, sl, sg, st) {
  addChart({ l: 37.4 + dx, r: 163.5 + dx, t: 391, b: 518 }, { left: 0, right: 0, top: 0, bottom: 0 }, {
    type: 'line',
    data: {
      datasets: [
        shape(clusterOutlines.SERPINE2, clusterColors[1], 9),
        shape(clusterOutlines.UBE2C, clusterColors[2], 8),
        shape(clusterOutlines.CXCL8, clusterColors[4], 7),
        shape(clusterOutlines.IFIT2, clusterColors[0], 6),
        shape(clusterOutlines.IFITM3, clusterColors[3], 5),
        dots(yellowSpots, clusterColors[1], 1.2, 4),
        dots(blueSpots, clusterColors[4], 1.2, 4),
        dots(nearRed, clusterColors[4], 1.4, 4),
        dots(redSpots, clusterColors[3], 1, 3),
        dots(gray, '#cfcfcf', 1.1, 3),
        dots(sy, clusterColors[1], 1.2, 3),
        dots(sl, clusterColors[2], 1.2, 3),
        dots(sg, '#cfcfcf', 1.2, 3),
        dots(st, clusterColors[0], 1.2, 3)
      ]
    },
    options: { scales: { x: hiddenAxis(4.65, 15.74), y: hiddenAxis(.14, 14.86) } }
  });
  const lx = title === 'Case' ? 0 : 138.5;
  text(`${title} nCells:${nCells}`, 33.3 + lx, 327.7, 6.5);
  text('cluster_standard:', 63.3 + lx, 335.7, 6);
  clusters.forEach((name, i) => {
    const y = 344.3 + i * 6.67;
    dot(66 + lx, y, 2.6, clusterColors[i]);
    text(`${name}(${counts[i]})`, 72.7 + lx, y, 5.7);
  });
  text(title, 98.3 + lx, 384.3, 6.2, { align: 'center' });
  umapArrows(33.3 + lx, 519, 19, 19, 5.7);
}
clusterPanel(0, 'Case', '12,559', clusterCountCase, yellowInBlueCase, blueInYellowCase, redDotsCase, blueDotsNearRedCase, grayStrayCase, strayYellowCase, strayLilacCase, strayGrayCase, []);
clusterPanel(138.5, 'Cont', '9917', clusterCountCont, yellowInBlueCont, blueInYellowCont, redDotsCont, blueDotsNearRedCont, grayStrayCont, strayYellowCont, strayLilacCont, strayGrayCont, strayTealCont);

// ---- panel E heatmap
const heatBlocks = [zIFIT2, zSERPINE2, zUBE2C, zIFITM3, zCXCL8];
const heatRows = [];   // one entry per row: {top:i} header, {gap:true}, or {block, z}
for (let i = 0; i < 4; i++) heatRows.push({ top: true });
heatRows.push({ gap: true });
heatBlocks.forEach((blk, b) => {
  blk.forEach(z => heatRows.push({ block: b, z }));
  if (b < heatBlocks.length - 1) heatRows.push({ gap: true });
});
const clear = 'rgba(0,0,0,0)';
const columnWidths = [6, 2.7, 10.14, 10.14, 10.14, 10.14, 10.14, 4.6, 6];
const columnColor = (c, row) => {
  if (row.gap) return clear;
  if (row.top) return c >= 2 && c <= 6 ? clusterColors[c - 2] : clear;
  if (c === 0 || c === 8) return clusterColors[row.block];
  if (c === 1 || c === 7) return clear;
  return heatColor(row.z[c - 2]);
};
const blockFrames = {
  id: 'blockFrames',
  afterDatasetsDraw(chart) {
    const { ctx, scales: { x, y } } = chart;
    const half = (y.getPixelForValue(1) - y.getPixelForValue(0)) / 2;
    const span = (a, b, t0, t1) => ctx.strokeRect(x.getPixelForValue(a), y.getPixelForValue(t0) - half, x.getPixelForValue(b) - x.getPixelForValue(a), y.getPixelForValue(t1) - y.getPixelForValue(t0) + 2 * half);
    ctx.save();
    ctx.strokeStyle = '#5e6b70';
    ctx.lineWidth = .8;
    span(8.7, 59.4, 0, 3);
    let start = -1;
    heatRows.forEach((r, i) => {
      const ends = i === heatRows.length - 1 || heatRows[i + 1].gap;
      if (r.block !== undefined && start < 0) start = i;
      if (r.block !== undefined && ends) {
        span(0, 6, start, i);
        span(8.7, 59.4, start, i);
        span(64, 70, start, i);
        start = -1;
      }
    });
    ctx.restore();
  }
};

// GO boxes sit below the heat chart in z order terms but use the shared overlay
const barEdges = [[341.7, 386], [388.3, 396], [398.3, 442.7], [445, 489.3], [491, 535.7]];
const boxEdges = [[341.7, 385], [388.3, 399.3], [401.7, 445], [447.3, 490.3], [492.3, 535.3]];
barEdges.forEach((bar, i) => {
  const [t, b] = boxEdges[i];
  poly([[487.3, bar[0]], [500, t], [642, t], [642, b], [500, b], [487.3, bar[1]]], '#fafafa', '#666', .9);
});

addChart({ l: 417.3, r: 487.3, t: 327.7, b: 535.7 }, { left: 0, right: 0, top: 0, bottom: 0 }, {
  type: 'bar',
  data: {
    labels: heatRows.map((_, i) => i),
    datasets: columnWidths.map((w, c) => ({
      data: heatRows.map(() => w),
      backgroundColor: heatRows.map(r => columnColor(c, r)),
      borderWidth: 0, barPercentage: 1, categoryPercentage: 1, stack: 's'
    }))
  },
  options: {
    indexAxis: 'y',
    scales: {
      x: { type: 'linear', display: false, stacked: true, min: 0, max: 70 },
      y: { type: 'category', display: false, stacked: true }
    }
  },
  plugins: [blockFrames]
});

text('cluster_standard', 451, 317.7, 10.6, { align: 'center' });
text('GO_BP (terms)', 487.7, 333, 9.4);
const blockLabelY = [364, 392.3, 420.7, 467, 513.3];
clusters.forEach((c, i) => text(c, 411, blockLabelY[i], 10, { align: 'right' }));
const termStart = [347.7, 393.7, 407.7, 452.7, 497.7];
goTerms.forEach((terms, b) => terms.forEach((t, i) => {
  text(t, 502.7, termStart[b] + i * 8, 5.9, { color: goColors[b][i] });
}));

text('zscore(normalized counts)', 647.3, 345, 7.6, { bold: true });
box(647.3, 352.7, 9.8, 49, { background: `linear-gradient(to top, ${heatStops.map(s => s[1]).join(',')})`, border: '0.6px solid #556' });
[['2', 354.3], ['1', 366], ['0', 377.3], ['\u22121', 389], ['\u22122', 400]].forEach(t => text(t[0], 659.3, t[1], 7.6));
function swatchLegend(title, titleY, y0) {
  text(title, 647.3, titleY, 7.6, { bold: true });
  clusters.forEach((c, i) => {
    box(647.3, y0 + i * 9.28, 9.6, 9.28, { background: clusterColors[i], border: '0.6px solid #445' });
    text(c, 659, y0 + i * 9.28 + 4.8, 8.3);
  });
}
swatchLegend('cluster_standard', 414.3, 421.7);
swatchLegend('Cluster', 481, 488.7);

// ---- panel H violins
const violinShape = k => {
  const top = violinMax[k];
  const pts = violinHeights.map((h, i) => [violinWidths[i], h]).filter(p => p[1] < top);
  pts.push([0, top]);
  const right = pts.map(p => [k - .16 + p[0], p[1]]);
  const left = pts.slice().reverse().map(p => [k - .16 - p[0], p[1]]);
  return right.concat(left, [right[0]]);
};
addChart({ l: 461, r: 642.3, t: 758.3, b: 852.3 }, { left: 20, right: 1, top: 1, bottom: 71.5 }, {
  type: 'line',
  data: {
    datasets: [
      {
        type: 'bar',
        data: clusters.map((_, i) => ({ x: i, y: [-.116, 2.92] })),
        backgroundColor: bandColors, barPercentage: 1, categoryPercentage: 1, order: 10
      },
      { data: [{ x: -.5, y: violinYLimit }, { x: 4.5, y: violinYLimit }], borderColor: '#b5b5b5', borderWidth: .8, borderDash: [3, 3], pointRadius: 0, order: 5 },
      ...clusters.map((_, k) => ({
        data: violinShape(k).map(p => ({ x: p[0], y: p[1] })),
        showLine: true, fill: 'shape', backgroundColor: '#7fc3e0', borderColor: '#3a4448', borderWidth: .7, pointRadius: 0, order: 3
      })),
      ...clusters.map((_, k) => ({
        data: [{ x: k + .08, y: 0 }, { x: k + .46, y: 0 }],
        borderColor: '#5f6a70', borderWidth: 1.4, pointRadius: 0, order: 3
      }))
    ]
  },
  options: {
    plugins: { frame: { color: '#333', width: 1 } },
    scales: {
      x: {
        type: 'linear', min: -.5, max: 4.5,
        afterBuildTicks: s => { s.ticks = clusters.map((_, value) => ({ value })); },
        grid: { drawOnChartArea: false, color: '#333', tickLength: 3 }, border: { display: false },
        ticks: { autoSkip: false, minRotation: 45, maxRotation: 45, padding: 1, color: '#222', font: { size: 9 }, callback: v => clusters[v] },
        title: { display: true, text: 'cluster_standard', padding: 0, color: '#222', font: { size: 9.4 } }
      },
      y: {
        type: 'linear', min: -.116, max: 2.92,
        afterBuildTicks: s => { s.ticks = [0, 2.8].map(value => ({ value })); },
        grid: { drawOnChartArea: false, color: '#333', tickLength: 3 }, border: { display: false },
        ticks: { autoSkip: false, padding: 1.5, color: '#222', font: { size: 8.4 }, callback: v => v }
      }
    }
  }
});
clusters.forEach((_, i) => text('****', 461 + 36.26 * (i + .5) + 7.7, 760, 6, { align: 'center', color: '#555' }));
text('TMEM176B', 644, 805.7, 8.3);
text('orig.ident:', 709, 794, 7.5);
box(709, 802.7, 10, 9.6, { background: '#8fcae4', border: '0.7px solid #556' });
box(709, 812.3, 10, 9.4, { background: contBlue, border: '0.7px solid #556' });
text('Case', 723, 807.5, 7.5);
text('Cont', 723, 817, 7.5);
</script>
</body>
</html>
